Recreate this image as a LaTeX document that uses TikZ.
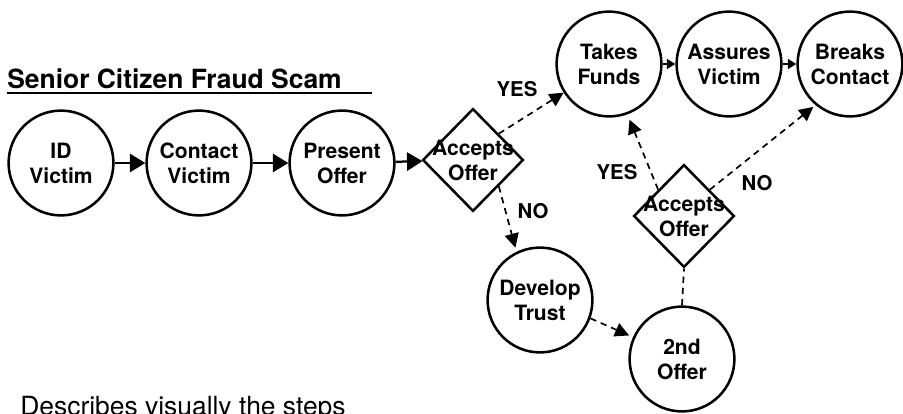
\documentclass[tikz,border=0pt]{standalone}
\usepackage{fontspec}
\setmainfont{TeX Gyre Heros}
\usepackage{tikz}
\usetikzlibrary{shapes.geometric, arrows.meta, positioning, calc}

\newcommand{\tight}[1]{\makebox[0pt]{#1}}

\tikzset{
  stepcircle/.style={draw, circle, line width=1.8pt, minimum size=2.62cm, inner sep=0pt,
    align=center, font=\fontsize{15}{17.7}\selectfont\bfseries},
  decision/.style={draw, diamond, line width=1.8pt, minimum width=2.52cm, minimum height=2.57cm,
    inner sep=0pt, align=center, font=\fontsize{15}{17.7}\selectfont\bfseries},
  flow/.style={line width=1.6pt, -{Triangle[length=11pt, width=13pt]}},
  smallflow/.style={line width=1.3pt, -{Triangle[length=6pt, width=7pt]}},
  maybe/.style={line width=1.2pt, dash pattern=on 4.5pt off 3.5pt, -{Triangle[length=10pt, width=10pt]}},
  maybeline/.style={line width=1.2pt, dash pattern=on 4.5pt off 3.5pt},
  answer/.style={font=\fontsize{14.5}{16}\selectfont\bfseries, inner sep=0pt}
}

\begin{document}
\begin{tikzpicture}[x=0.025cm, y=-0.025cm]
  \useasboundingbox (0,0) rectangle (903,414);

  % Title
  \node[anchor=base west, inner sep=0pt, font=\fontsize{18.8}{22}\selectfont\bfseries] (title) at (7,88) {Senior Citizen Fraud Scam};
  \draw[line width=1.5pt] (7,93) -- (372,93);

  % Main line
  \node[stepcircle] (idvictim) at (61,163) {ID\\Victim};
  \node[stepcircle] (contact) at (199,163) {Contact\\Victim};
  \node[stepcircle] (present) at (342,163) {Present\\Offer};
  \node[decision] (accept1) at (473,160) {\tight{Accepts}\\\tight{Offer}};

  % Top row
  \node[stepcircle] (takes) at (609,64) {Takes\\Funds};
  \node[stepcircle] (assures) at (729,64) {Assures\\Victim};
  \node[stepcircle] (breaks) at (850,64) {Breaks\\Contact};

  % Second chance
  \node[stepcircle] (develop) at (540,300) {Develop\\Trust};
  \node[stepcircle] (second) at (682,359) {2nd\\Offer};
  \node[decision] (accept2) at (684,216) {\tight{Accepts}\\\tight{Offer}};

  % Answers
  \node[answer] (yes1) at (517,89) {YES};
  \node[answer] (no1) at (533,211) {NO};
  \node[answer] (yes2) at (617,172) {YES};
  \node[answer] (no2) at (757,183) {NO};

  % Connectors
  \draw[flow] (idvictim) -- (contact);
  \draw[flow] (contact) -- (present);
  \draw[flow] (present) -- (accept1);
  \draw[maybe] (accept1.north east) -- (takes);
  \draw[maybe, shorten >=3pt] (accept1.south east) -- (develop.116);
  \draw[smallflow] (takes) -- (assures);
  \draw[smallflow] (assures) -- (breaks);
  \draw[maybe, shorten >=3pt] (develop.-20) -- (second.156);
  \draw[maybeline] (second.north) -- (accept2.south);
  \draw[maybe, shorten >=4pt] (accept2.north west) -- (takes.-70);
  \draw[maybe, shorten >=2pt] (accept2.north east) -- (breaks.230);

  % Caption
  \node[anchor=base west, inner sep=0pt, font=\fontsize{18.8}{22}\selectfont] (caption) at (20,415) {Describes visually the steps};
\end{tikzpicture}
\end{document}
